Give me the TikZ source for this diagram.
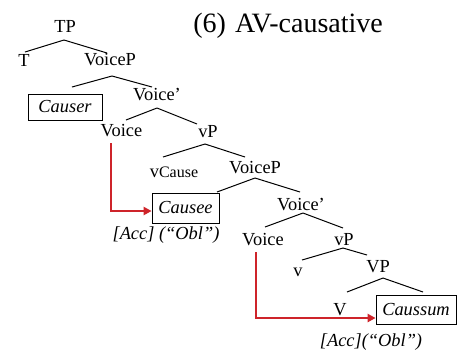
\documentclass[tikz,border=0pt]{standalone}
\usepackage{fontspec}
\setmainfont{Liberation Serif}
\usetikzlibrary{calc,arrows.meta}
\definecolor{movred}{RGB}{206,36,42}
\begin{document}
\begin{tikzpicture}[x=0.5pt,y=-0.5pt,
  tl/.style={inner sep=0pt,font=\fontsize{9.2}{10}\selectfont},
  tli/.style={inner sep=0pt,font=\fontsize{9.2}{10}\selectfont\itshape},
  bx/.style={draw,line width=0.5pt,inner sep=0pt,font=\fontsize{9.2}{10}\selectfont\itshape},
  br/.style={line width=0.5pt},
  mv/.style={draw=movred,line width=0.8pt,-{Triangle[length=4pt,width=4.2pt]}}]
\path[use as bounding box] (0,0) rectangle (458,350);
% nodes
\node[tl] (TP) at (65,26) {TP};
\node[anchor=base west,inner sep=0pt,font=\fontsize{14}{15}\selectfont] (title) at (193,32) {(6)\hspace{4.5pt}AV-causative};
\node[tl] (T) at (24,60) {T};
\node[tl] (VP1) at (110,60) {VoiceP};
\node[bx,minimum width=37pt,minimum height=13pt] (Causer) at (65,107) {Causer\hspace{5pt}};
\node[tl] (Vb1) at (157,95) {Voice'};
\node[tl] (Vo1) at (121.5,131) {Voice};
\node[tl] (vP1) at (208,132) {vP};
\node[tl] (vC) at (174,172) {v{\fontsize{8}{8}\selectfont Cause}};
\node[tl] (VP2) at (255,168) {VoiceP};
\node[bx,minimum width=33.5pt,minimum height=15pt] (Causee) at (185.5,208) {Causee};
\node[tl] (Vb2) at (301,205) {Voice'};
\node[tli] (acc1) at (166,235) {[Acc] (“Obl”)};
\node[tl] (Vo2) at (263,240) {Voice};
\node[tl] (vP2) at (344,240) {vP};
\node[tl] (v) at (298,272) {v};
\node[tl] (VP) at (378,267) {VP};
\node[tl] (V) at (340,310) {V};
\node[bx,minimum width=40pt,minimum height=14.5pt] (Caussum) at (416,309.5) {Caussum};
\node[tli] (acc2) at (371,342) {[Acc](“Obl”)};
% branches
\draw[br] ($(TP)+(-1,14)$) -- ($(T)+(1,-8)$);
\draw[br] ($(TP)+(-1,14)$) -- ($(VP1)+(-3,-7)$);
\draw[br] ($(VP1)+(2,16)$) -- ($(Causer)+(7,-20)$);
\draw[br] ($(VP1)+(2,16)$) -- ($(Vb1)+(-5,-8)$);
\draw[br] ($(Vb1)+(0,13)$) -- ($(Vo1)+(4.5,-11)$);
\draw[br] ($(Vb1)+(0,13)$) -- ($(vP1)+(-11,-8)$);
\draw[br] ($(vP1)+(-3,12)$) -- ($(vC)+(-11,-15)$);
\draw[br] ($(vP1)+(-3,12)$) -- ($(VP2)+(-10,-11)$);
\draw[br] ($(VP2)+(0,10)$) -- ($(Causee)+(31.5,-16)$);
\draw[br] ($(VP2)+(0,10)$) -- ($(Vb2)+(-1,-13)$);
\draw[br] ($(Vb2)+(2,8)$) -- ($(Vo2)+(2,-13)$);
\draw[br] ($(Vb2)+(2,8)$) -- ($(vP2)+(-1,-12)$);
\draw[br] ($(vP2)+(-1,8)$) -- ($(v)+(4,-12)$);
\draw[br] ($(vP2)+(-1,8)$) -- ($(VP)+(-11,-12)$);
\draw[br] ($(VP)+(5,11)$) -- ($(V)+(7,-18)$);
\draw[br] ($(VP)+(5,11)$) -- ($(Caussum)+(7,-17.5)$);
% movement arrows
\draw[mv] ($(Vo1)+(-10.5,12)$) |- ($(Causee.west)+(0,3)$);
\draw[mv] ($(Vo2)+(-7,12)$) |- ($(Caussum.west)+(0,8.5)$);
\end{tikzpicture}
\end{document}
